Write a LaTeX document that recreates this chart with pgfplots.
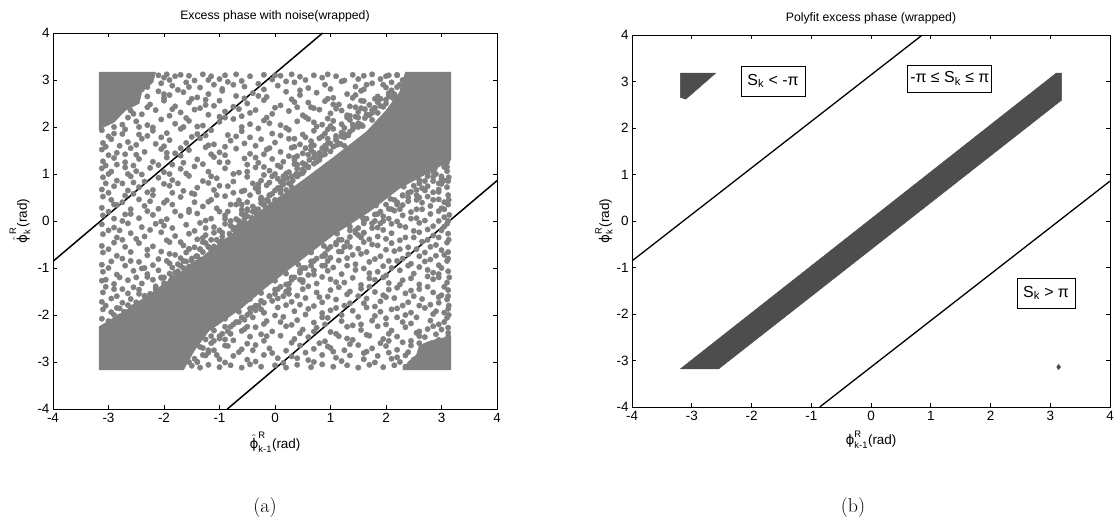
\documentclass[border=0pt]{standalone}
\usepackage{pgfplots}
\pgfplotsset{compat=1.18}
\usepackage{amsmath}
\usepackage{fontspec}
\newfontfamily\arial{Liberation Sans}
\newfontfamily\dejavu{DejaVu Sans}
\newcommand{\ph}{\text{\dejavu ϕ}}
\definecolor{mgray}{RGB}{128,128,128}
\definecolor{dgray}{RGB}{77,77,77}
\pgfplotsset{
 mystyle/.style={
  scale only axis, xmin=-4,xmax=4,ymin=-4,ymax=4,
  xtick={-4,-3,-2,-1,0,1,2,3,4}, ytick={-4,-3,-2,-1,0,1,2,3,4},
  xticklabels={-4,-3,-2,-1,0,1,2,3,4}, yticklabels={-4,-3,-2,-1,0,1,2,3,4},
  tick align=inside, major tick length=4bp,
  tick style={black, line width=0.6bp},
  axis line style={black, line width=0.8bp},
  ticklabel style={font=\arial\fontsize{13.5}{15}\selectfont},
  xticklabel style={yshift=-1bp},
  title style={font=\arial\fontsize{12.3}{14}\selectfont, yshift=1bp},
  xlabel style={font=\arial\fontsize{13.5}{15}\selectfont, at={(axis description cs:0.5,0)}, anchor=center, yshift=-33bp},
  ylabel style={font=\arial\fontsize{13.5}{15}\selectfont, anchor=center},
 }}
\begin{document}
\begin{tikzpicture}
\path[use as bounding box] (0,0) rectangle (1117bp,527bp);
% ---------------- (a) ----------------
\begin{axis}[mystyle, at={(53bp,118bp)}, anchor=south west, width=444bp, height=376bp,
  title={Excess phase with noise(wrapped)},
  xlabel={$\hat{\ph}^{\text{R}}_{\text{k-1}}$(rad)},
  ylabel={$\hat{\ph}^{\text{R}}_{\text{k}}$(rad)},
  ylabel style={at={([xshift=-33bp]axis description cs:0,0.5)}}]
% dense band
\addplot[fill=mgray, draw=mgray, line width=0.5bp] coordinates {
(-3.17,-3.17) (-1.65,-3.17) (-1.45,-2.75) (-1.2,-2.35) (-0.6,-1.85) (-0.15,-1.4) (0.5,-0.8) (1.05,-0.3) (1.7,0.2) (2.25,0.7) (2.8,1.05) (3.17,1.3) (3.17,3.17) (2.35,3.17) (2.25,2.75) (2.0,2.35) (1.65,1.9) (1.05,1.35) (0.45,0.82) (-0.15,0.32) (-0.75,-0.25) (-1.35,-0.8) (-2.25,-1.55) (-2.75,-1.95) (-3.17,-2.25) (-3.17,-3.17)};
% corners
\addplot[fill=mgray, draw=mgray, line width=0.5bp] coordinates {
(-3.17,3.17) (-2.15,3.17) (-2.2,2.95) (-2.4,2.75) (-2.45,2.5) (-2.7,2.35) (-2.9,2.1) (-3.17,1.95) (-3.17,3.17)};
\addplot[fill=mgray, draw=mgray, line width=0.5bp] coordinates {
(3.17,-3.17) (2.3,-3.17) (2.4,-3.0) (2.55,-2.85) (2.6,-2.65) (2.8,-2.55) (3.17,-2.45) (3.17,-3.17)};
% scattered points, upper-left region
\addplot[only marks, mark=*, mark size=2.7bp, color=mgray] coordinates {
(-2.1,3.1)(-1.95,3.12)(-1.8,3.08)(-1.7,3.11)(-1.55,3.09)(-1.3,3.12)(-1.15,3.08)(-0.9,3.1)(-0.7,3.12)(-0.45,3.08)(-0.2,3.11)(0.1,3.09)(0.3,3.12)(0.45,3.07)(0.7,3.1)(0.95,3.12)(1.1,3.08)(1.4,3.11)(1.6,3.09)(1.75,3.12)(2.0,3.08)(2.2,3.11)(2.4,3.09)
(-2.3,2.85)(-2.05,2.93)(-1.85,2.88)(-1.6,2.95)(-1.35,2.84)(-1.1,2.9)(-0.85,2.96)(-0.55,2.86)(-0.3,2.92)(0.05,2.88)(0.35,2.95)(0.6,2.83)(0.9,2.9)(1.2,2.97)(1.45,2.86)(1.75,2.93)(2.0,2.84)(2.25,2.9)
(-2.55,2.72)(-2.3,2.65)(-2.1,2.76)(-1.9,2.68)(-1.65,2.74)(-1.4,2.63)(-1.2,2.7)(-0.95,2.77)(-0.7,2.66)(-0.4,2.72)(-0.15,2.64)(0.2,2.75)(0.45,2.68)(0.75,2.73)(1.05,2.62)(1.3,2.7)(1.55,2.77)(1.85,2.65)(2.05,2.72)(2.2,2.62)
(-2.75,2.45)(-2.5,2.55)(-2.25,2.48)(-2.0,2.56)(-1.8,2.44)(-1.55,2.52)(-1.25,2.47)(-1.0,2.56)(-0.75,2.43)(-0.5,2.5)(-0.2,2.57)(0.1,2.46)(0.35,2.53)(0.65,2.42)(0.9,2.55)(1.15,2.48)(1.35,2.44)(1.55,2.56)(1.7,2.47)(1.85,2.53)(1.95,2.43)
(-3.05,2.33)(-2.85,2.25)(-2.6,2.35)(-2.4,2.27)(-2.15,2.36)(-1.9,2.24)(-1.7,2.31)(-1.45,2.37)(-1.2,2.26)(-0.9,2.33)(-0.6,2.23)(-0.35,2.36)(-0.05,2.28)(0.25,2.34)(0.5,2.25)(0.8,2.37)(1.0,2.29)(1.2,2.35)(1.35,2.24)(1.5,2.32)(1.65,2.27)(1.75,2.36)
(-3.1,2.08)(-2.95,2.15)(-2.75,2.05)(-2.5,2.12)(-2.3,2.04)(-2.05,2.16)(-1.8,2.07)(-1.55,2.13)(-1.3,2.03)(-1.0,2.11)(-0.75,2.17)(-0.45,2.06)(-0.2,2.14)(0.1,2.04)(0.4,2.12)(0.6,2.17)(0.85,2.05)(1.05,2.13)(1.2,2.06)(1.35,2.15)(1.5,2.08)(1.58,2.02)
(-3.12,1.93)(-2.9,1.86)(-2.7,1.95)(-2.45,1.84)(-2.2,1.92)(-1.95,1.87)(-1.7,1.96)(-1.4,1.85)(-1.15,1.93)(-0.85,1.83)(-0.6,1.91)(-0.3,1.97)(-0.05,1.86)(0.25,1.94)(0.5,1.84)(0.7,1.92)(0.9,1.86)(1.05,1.96)(1.2,1.88)(1.32,1.83)(1.4,1.95)
(-3.1,1.66)(-2.95,1.74)(-2.65,1.68)(-2.4,1.75)(-2.15,1.64)(-1.9,1.72)(-1.6,1.66)(-1.35,1.76)(-1.1,1.63)(-0.8,1.71)(-0.55,1.65)(-0.25,1.74)(0.0,1.67)(0.25,1.75)(0.45,1.63)(0.65,1.7)(0.8,1.76)(0.95,1.65)(1.1,1.72)(1.18,1.64)
(-3.12,1.52)(-2.85,1.45)(-2.6,1.55)(-2.35,1.47)(-2.05,1.53)(-1.8,1.44)(-1.55,1.51)(-1.25,1.57)(-1.0,1.46)(-0.7,1.54)(-0.45,1.43)(-0.15,1.52)(0.1,1.47)(0.3,1.56)(0.5,1.44)(0.65,1.51)(0.8,1.45)(0.92,1.55)(1.0,1.48)
(-3.1,1.27)(-2.9,1.34)(-2.7,1.25)(-2.45,1.32)(-2.2,1.26)(-1.95,1.35)(-1.65,1.24)(-1.4,1.31)(-1.1,1.36)(-0.85,1.25)(-0.55,1.33)(-0.3,1.24)(-0.05,1.32)(0.15,1.26)(0.35,1.35)(0.5,1.23)(0.62,1.3)(0.75,1.26)(0.8,1.35)
(-3.12,1.12)(-2.95,1.05)(-2.7,1.14)(-2.5,1.06)(-2.25,1.13)(-2.0,1.04)(-1.7,1.11)(-1.45,1.16)(-1.2,1.05)(-0.9,1.12)(-0.65,1.03)(-0.35,1.14)(-0.1,1.07)(0.1,1.15)(0.25,1.04)(0.4,1.11)(0.52,1.06)(0.6,1.14)
(-3.1,0.93)(-2.85,0.86)(-2.6,0.95)(-2.35,0.84)(-2.1,0.92)(-1.85,0.87)(-1.55,0.96)(-1.3,0.85)(-1.05,0.91)(-0.75,0.84)(-0.5,0.94)(-0.25,0.86)(-0.05,0.95)(0.1,0.84)(0.22,0.91)(0.32,0.86)(0.4,0.95)
(-3.12,0.67)(-2.9,0.74)(-2.65,0.65)(-2.45,0.72)(-2.2,0.66)(-1.9,0.75)(-1.65,0.64)(-1.4,0.71)(-1.1,0.66)(-0.85,0.74)(-0.6,0.63)(-0.35,0.7)(-0.15,0.76)(0.0,0.65)(0.1,0.72)(0.2,0.66)
(-3.1,0.52)(-2.95,0.45)(-2.7,0.54)(-2.45,0.46)(-2.2,0.55)(-1.95,0.44)(-1.7,0.51)(-1.45,0.57)(-1.15,0.45)(-0.9,0.53)(-0.65,0.44)(-0.45,0.55)(-0.25,0.47)(-0.1,0.54)(0.0,0.45)
(-3.12,0.28)(-2.85,0.34)(-2.6,0.25)(-2.35,0.32)(-2.1,0.26)(-1.85,0.35)(-1.55,0.24)(-1.3,0.31)(-1.05,0.27)(-0.8,0.35)(-0.6,0.24)(-0.4,0.31)(-0.3,0.25)(-0.2,0.34)
(-3.1,0.12)(-2.9,0.05)(-2.7,0.14)(-2.45,0.06)(-2.2,0.13)(-1.95,0.04)(-1.7,0.11)(-1.4,0.16)(-1.15,0.05)(-0.9,0.12)(-0.7,0.04)(-0.55,0.13)(-0.42,0.07)
(-3.12,-0.07)(-2.9,-0.14)(-2.65,-0.05)(-2.4,-0.13)(-2.15,-0.06)(-1.85,-0.15)(-1.6,-0.08)(-1.35,-0.04)(-1.1,-0.13)(-0.9,-0.06)(-0.75,-0.14)(-0.62,-0.05)
(-3.1,-0.28)(-2.85,-0.35)(-2.6,-0.26)(-2.35,-0.33)(-2.05,-0.24)(-1.8,-0.32)(-1.55,-0.27)(-1.3,-0.36)(-1.1,-0.25)(-0.95,-0.33)(-0.82,-0.27)
(-3.12,-0.53)(-2.9,-0.46)(-2.7,-0.55)(-2.45,-0.47)(-2.2,-0.54)(-1.9,-0.45)(-1.65,-0.52)(-1.45,-0.56)(-1.25,-0.47)(-1.1,-0.54)(-1.0,-0.46)
(-3.1,-0.67)(-2.85,-0.74)(-2.6,-0.66)(-2.3,-0.73)(-2.05,-0.65)(-1.8,-0.72)(-1.6,-0.67)(-1.42,-0.75)(-1.3,-0.66)(-1.2,-0.73)
(-3.12,-0.93)(-2.95,-0.86)(-2.7,-0.95)(-2.45,-0.87)(-2.2,-0.94)(-1.95,-0.85)(-1.75,-0.92)(-1.6,-0.86)(-1.48,-0.95)(-1.4,-0.88)
(-3.1,-1.08)(-2.85,-1.14)(-2.55,-1.06)(-2.3,-1.13)(-2.1,-1.05)(-1.9,-1.12)(-1.75,-1.07)(-1.62,-1.14)
(-3.12,-1.27)(-2.9,-1.34)(-2.65,-1.26)(-2.4,-1.33)(-2.2,-1.25)(-2.0,-1.32)(-1.88,-1.27)(-1.8,-1.35)
(-3.1,-1.52)(-2.9,-1.45)(-2.65,-1.54)(-2.45,-1.46)(-2.25,-1.55)(-2.1,-1.47)(-2.0,-1.53)
(-3.12,-1.72)(-2.95,-1.65)(-2.75,-1.74)(-2.6,-1.66)(-2.5,-1.73)
(-3.1,-1.88)(-2.95,-1.94)(-2.8,-1.86)(-2.72,-1.93)
(-3.12,-2.08)(-3.0,-2.13)
(-2.0,-1.2)(-1.8,-1.1)(-1.7,-0.95)(-1.5,-0.85)(-1.35,-0.6)(-1.2,-0.55)(-1.05,-0.4)(-0.95,-0.25)(-0.8,-0.1)(-0.65,0.0)(-0.5,0.25)(-0.4,0.2)(-0.25,0.45)(-0.1,0.55)(0.05,0.7)(0.15,0.85)(0.3,0.95)(0.45,1.0)(0.55,1.2)(0.7,1.35)(0.85,1.4)(1.0,1.65)(1.1,1.75)(1.25,1.85)(1.4,2.05)(1.5,2.2)(1.65,2.25)(1.8,2.4)(1.9,2.6)(2.05,2.65)(2.2,2.85)(2.35,2.95)(2.45,3.05)
(-1.9,-0.9)(-1.55,-0.6)(-1.25,-0.3)(-0.9,0.05)(-0.6,0.35)(-0.3,0.7)(0.0,1.0)(0.35,1.3)(0.65,1.6)(0.95,1.95)(1.3,2.25)(1.6,2.55)(1.95,2.9)(2.2,3.1)
(-1.9,3.0)(-1.45,2.99)(-1.0,3.02)(-0.6,2.98)(-0.05,3.01)(0.55,3.0)(1.25,2.99)(1.9,3.02)(2.3,3.0)
(-2.4,2.8)(-1.75,2.79)(-0.95,2.81)(-0.2,2.8)(0.45,2.78)(1.0,2.81)(1.6,2.8)(2.1,2.78)(2.3,2.75)
(-2.7,2.6)(-2.0,2.62)(-1.5,2.6)(-0.55,2.61)(0.3,2.59)(0.95,2.6)(1.4,2.62)(1.8,2.6)(2.0,2.58)(2.12,2.62)
(-2.9,2.4)(-2.3,2.42)(-1.35,2.4)(-0.65,2.38)(0.0,2.41)(0.7,2.4)(1.1,2.39)(1.45,2.42)(1.62,2.38)(1.8,2.41)(1.9,2.45)
(-3.12,2.2)(-2.65,2.2)(-1.6,2.19)(-1.0,2.22)(-0.15,2.2)(0.55,2.21)(0.95,2.18)(1.3,2.2)(1.45,2.22)(1.62,2.19)(1.7,2.25)
(-2.9,2.0)(-2.2,1.99)(-1.4,2.01)(-0.6,2.0)(0.2,1.98)(0.75,2.01)(1.0,2.02)(1.25,1.98)(1.42,2.0)(1.5,2.04)
(-3.0,1.8)(-2.3,1.81)(-1.5,1.79)(-0.7,1.8)(0.1,1.82)(0.55,1.78)(0.85,1.8)(1.1,1.81)(1.25,1.78)(1.32,1.82)
(-2.8,1.6)(-2.0,1.59)(-1.2,1.61)(-0.35,1.6)(0.35,1.58)(0.7,1.61)(0.9,1.6)(1.05,1.58)(1.12,1.62)
(-3.0,1.4)(-2.5,1.41)(-1.7,1.39)(-0.9,1.4)(-0.2,1.42)(0.4,1.38)(0.6,1.41)(0.78,1.39)(0.9,1.42)
(-2.85,1.2)(-2.1,1.19)(-1.3,1.21)(-0.5,1.2)(0.05,1.18)(0.35,1.21)(0.55,1.2)(0.7,1.22)
(-3.0,1.0)(-2.4,0.99)(-1.6,1.01)(-0.75,1.0)(-0.2,0.98)(0.2,1.01)(0.38,1.0)(0.5,1.02)
(-2.75,0.8)(-2.0,0.79)(-1.2,0.81)(-0.4,0.8)(-0.1,0.82)(0.15,0.78)(0.28,0.8)
(-3.0,0.6)(-2.3,0.61)(-1.5,0.59)(-0.75,0.6)(-0.3,0.62)(-0.05,0.58)(0.1,0.6)
(-2.75,0.4)(-2.0,0.39)(-1.2,0.41)(-0.5,0.4)(-0.25,0.38)(-0.12,0.42)
(-3.0,0.2)(-2.3,0.21)(-1.55,0.19)(-0.85,0.2)(-0.5,0.22)(-0.35,0.18)
(-2.75,0.0)(-2.05,-0.01)(-1.25,0.01)(-0.8,0.0)(-0.55,-0.02)
(-3.0,-0.2)(-2.25,-0.19)(-1.45,-0.21)(-1.0,-0.2)(-0.75,-0.18)
(-2.75,-0.4)(-1.95,-0.41)(-1.4,-0.39)(-1.15,-0.4)(-0.95,-0.42)
(-3.0,-0.6)(-2.3,-0.61)(-1.55,-0.59)(-1.35,-0.6)(-1.15,-0.62)
(-2.75,-0.8)(-2.1,-0.81)(-1.7,-0.79)(-1.5,-0.8)(-1.35,-0.82)
(-3.0,-1.0)(-2.4,-1.01)(-1.85,-0.99)(-1.65,-1.0)(-1.55,-0.97)
(-2.8,-1.2)(-2.3,-1.19)(-2.05,-1.21)(-1.85,-1.2)
(-3.05,-1.4)(-2.55,-1.41)(-2.15,-1.39)(-2.02,-1.42)
(-2.85,-1.6)(-2.35,-1.59)(-2.2,-1.62)
(-3.05,-1.8)(-2.65,-1.79)(-2.55,-1.83)
(-2.9,-2.0)(-2.8,-2.03)
(2.35,2.75)(2.45,2.6)(2.4,2.45)(2.3,2.55)(2.45,2.85)(2.5,2.95)(2.35,3.0)
(-2.6,-1.85)(-2.35,-1.6)(-2.15,-1.45)(-1.95,-1.35)(-1.6,-1.05)(-1.4,-0.75)(-1.15,-0.6)(-1.0,-0.45)(-0.7,-0.15)(-0.55,0.05)(-0.35,0.25)(-0.2,0.35)(0.1,0.65)(0.25,0.8)(0.4,0.95)(0.6,1.15)(0.8,1.3)(0.9,1.5)(1.15,1.65)(1.35,1.9)(1.55,2.05)(1.75,2.3)(2.0,2.5)(2.15,2.7)(2.3,2.8)
(-2.0,2.7)(-1.25,2.58)(-0.3,2.66)(0.6,2.52)(1.45,2.68)(1.65,2.9)(0.2,2.97)(-0.75,2.9)(-1.55,2.85)(2.1,2.95)
(-2.55,2.28)(-1.85,2.38)(-1.1,2.45)(-0.45,2.3)(0.4,2.42)(1.05,2.48)(1.55,2.4)(1.75,2.15)(0.7,2.1)(-0.1,2.08)(-0.9,2.2)(-1.65,2.0)(-2.45,2.0)
(-2.75,1.85)(-2.05,1.78)(-1.25,1.82)(-0.45,1.78)(0.35,1.75)(0.95,1.75)(1.25,1.6)(0.55,1.55)(-0.1,1.55)(-0.9,1.58)(-1.7,1.55)(-2.5,1.62)(-3.05,1.58)
(-2.7,1.42)(-1.95,1.45)(-1.15,1.42)(-0.35,1.35)(0.25,1.38)(0.7,1.45)(0.4,1.2)(-0.2,1.15)(-1.0,1.25)(-1.85,1.2)(-2.55,1.18)(-3.05,1.18)
(-2.65,1.0)(-1.9,1.0)(-1.15,0.95)(-0.5,1.05)(0.05,0.9)(0.3,0.72)(-0.3,0.78)(-1.0,0.75)(-1.75,0.8)(-2.55,0.82)(-3.05,0.8)
(-2.55,0.58)(-1.85,0.6)(-1.05,0.55)(-0.55,0.65)(-0.15,0.45)(-0.7,0.35)(-1.45,0.4)(-2.25,0.42)(-2.9,0.35)
(-2.6,0.15)(-1.8,0.2)(-1.0,0.2)(-0.5,0.1)(-0.65,-0.1)(-1.25,-0.15)(-2.0,-0.1)(-2.8,-0.2)
(-2.5,-0.38)(-1.7,-0.45)(-1.2,-0.55)(-2.6,-0.85)(-1.9,-0.7)(-2.35,-1.0)(-1.75,-1.25)(-2.5,-1.2)(-2.75,-1.45)(-2.85,-1.85)(-3.05,-1.25)(-2.2,-1.8)
(-2.0,3.05)(-1.2,3.0)(0.0,3.1)(0.85,3.05)(1.5,3.02)(2.05,3.1)
(-2.45,-1.55)(-2.05,-1.2)(-1.65,-0.85)(-1.3,-0.45)(-1.0,-0.2)(-0.6,0.15)(-0.25,0.5)(0.15,0.95)(0.5,1.1)(0.85,1.55)(1.2,1.8)(1.5,2.0)(1.85,2.3)(2.05,2.7)(2.2,2.6)
};
% scattered points, lower-right region
\addplot[only marks, mark=*, mark size=2.7bp, color=mgray] coordinates {
(-1.5,-3.08)(-1.35,-3.12)(-1.2,-3.06)(-1.0,-3.11)(-0.8,-3.07)(-0.6,-3.12)(-0.45,-3.05)(-0.25,-3.1)(0.0,-3.07)(0.2,-3.12)(0.4,-3.06)(0.65,-3.11)(0.85,-3.05)(1.05,-3.1)(1.3,-3.07)(1.5,-3.12)(1.7,-3.06)(1.95,-3.11)(2.15,-3.07)(2.35,-3.1)
(-1.45,-2.93)(-1.25,-2.86)(-1.0,-2.94)(-0.75,-2.87)(-0.5,-2.95)(-0.2,-2.85)(0.05,-2.92)(0.3,-2.88)(0.6,-2.96)(0.85,-2.85)(1.1,-2.91)(1.35,-2.86)(1.6,-2.94)(1.85,-2.87)(2.1,-2.93)(2.35,-2.86)(2.5,-2.95)
(-1.35,-2.68)(-1.1,-2.75)(-0.85,-2.66)(-0.6,-2.73)(-0.35,-2.64)(-0.1,-2.71)(0.2,-2.76)(0.45,-2.65)(0.7,-2.72)(0.95,-2.67)(1.25,-2.75)(1.5,-2.64)(1.75,-2.71)(2.0,-2.66)(2.2,-2.74)(2.45,-2.65)
(-1.25,-2.52)(-1.0,-2.45)(-0.75,-2.54)(-0.45,-2.46)(-0.2,-2.55)(0.1,-2.44)(0.35,-2.51)(0.6,-2.47)(0.9,-2.56)(1.15,-2.45)(1.4,-2.53)(1.7,-2.44)(1.95,-2.51)(2.2,-2.46)(2.45,-2.55)(2.7,-2.47)(2.95,-2.53)(3.12,-2.46)
(-1.1,-2.33)(-0.9,-2.25)(-0.6,-2.34)(-0.35,-2.26)(-0.05,-2.35)(0.2,-2.24)(0.5,-2.31)(0.75,-2.27)(1.0,-2.36)(1.3,-2.25)(1.55,-2.32)(1.85,-2.24)(2.1,-2.33)(2.35,-2.26)(2.6,-2.35)(2.85,-2.24)(3.0,-2.31)(3.12,-2.27)
(-0.9,-2.08)(-0.65,-2.15)(-0.4,-2.05)(-0.15,-2.13)(0.15,-2.04)(0.4,-2.11)(0.7,-2.16)(0.95,-2.06)(1.2,-2.13)(1.5,-2.04)(1.75,-2.12)(2.0,-2.07)(2.3,-2.15)(2.55,-2.05)(2.8,-2.12)(3.1,-2.06)
(-0.65,-1.93)(-0.45,-1.86)(-0.2,-1.95)(0.05,-1.84)(0.35,-1.92)(0.6,-1.87)(0.85,-1.96)(1.1,-1.85)(1.4,-1.91)(1.65,-1.84)(1.9,-1.93)(2.2,-1.86)(2.45,-1.95)(2.7,-1.85)(2.9,-1.92)(3.12,-1.87)
(-0.45,-1.66)(-0.2,-1.74)(0.05,-1.65)(0.3,-1.72)(0.55,-1.64)(0.85,-1.73)(1.1,-1.67)(1.35,-1.75)(1.65,-1.65)(1.9,-1.71)(2.15,-1.64)(2.4,-1.73)(2.65,-1.66)(2.95,-1.74)(3.1,-1.67)
(-0.25,-1.53)(0.0,-1.46)(0.25,-1.55)(0.5,-1.45)(0.75,-1.52)(1.0,-1.47)(1.3,-1.56)(1.55,-1.44)(1.8,-1.51)(2.05,-1.46)(2.35,-1.54)(2.6,-1.45)(2.85,-1.52)(3.12,-1.47)
(0.0,-1.27)(0.25,-1.34)(0.5,-1.26)(0.75,-1.33)(1.0,-1.24)(1.25,-1.31)(1.55,-1.36)(1.8,-1.25)(2.05,-1.32)(2.3,-1.26)(2.6,-1.35)(2.85,-1.24)(3.1,-1.31)
(0.2,-1.12)(0.45,-1.05)(0.7,-1.14)(0.95,-1.06)(1.2,-1.13)(1.45,-1.04)(1.7,-1.11)(2.0,-1.16)(2.25,-1.05)(2.5,-1.12)(2.75,-1.04)(2.95,-1.13)(3.12,-1.07)
(0.42,-0.93)(0.65,-0.86)(0.9,-0.95)(1.15,-0.84)(1.45,-0.92)(1.7,-0.87)(1.95,-0.96)(2.2,-0.85)(2.45,-0.91)(2.7,-0.86)(2.95,-0.94)(3.1,-0.85)
(0.65,-0.67)(0.9,-0.74)(1.15,-0.65)(1.4,-0.72)(1.65,-0.66)(1.9,-0.75)(2.15,-0.64)(2.4,-0.71)(2.7,-0.67)(2.9,-0.74)(3.12,-0.66)
(0.88,-0.53)(1.1,-0.46)(1.35,-0.55)(1.6,-0.45)(1.85,-0.52)(2.1,-0.47)(2.4,-0.56)(2.65,-0.44)(2.9,-0.51)(3.1,-0.46)
(1.12,-0.27)(1.35,-0.34)(1.6,-0.25)(1.85,-0.33)(2.1,-0.26)(2.35,-0.35)(2.6,-0.24)(2.85,-0.31)(3.12,-0.27)
(1.35,-0.12)(1.6,-0.05)(1.85,-0.14)(2.1,-0.06)(2.35,-0.13)(2.6,-0.04)(2.85,-0.11)(3.1,-0.06)
(1.58,0.07)(1.8,0.14)(2.05,0.05)(2.3,0.12)(2.55,0.06)(2.8,0.15)(3.05,0.08)(3.14,0.13)
(1.82,0.33)(2.05,0.26)(2.3,0.34)(2.55,0.25)(2.8,0.32)(3.0,0.27)(3.12,0.35)
(2.08,0.47)(2.3,0.54)(2.55,0.45)(2.75,0.52)(2.95,0.46)(3.12,0.55)
(2.32,0.73)(2.55,0.66)(2.75,0.74)(2.95,0.67)(3.1,0.72)
(2.6,0.87)(2.85,0.94)(3.05,0.86)(3.13,0.93)
(2.88,1.12)(3.1,1.06)
(-1.3,-2.7)(-1.1,-2.55)(-0.95,-2.4)(-0.8,-2.25)(-0.6,-2.05)(-0.45,-1.95)(-0.3,-1.8)(-0.1,-1.6)(0.05,-1.45)(0.2,-1.35)(0.35,-1.2)(0.55,-1.0)(0.7,-0.85)(0.85,-0.75)(1.0,-0.55)(1.2,-0.4)(1.35,-0.2)(1.5,-0.15)(1.65,0.05)(1.85,0.15)(2.0,0.35)(2.15,0.45)(2.3,0.55)(2.5,0.75)(2.7,0.85)(2.9,1.0)(3.05,1.15)
(-0.9,-2.65)(-0.55,-2.3)(-0.2,-1.95)(0.15,-1.6)(0.5,-1.3)(0.85,-0.95)(1.2,-0.65)(1.55,-0.35)(1.9,-0.05)(2.25,0.25)(2.6,0.5)(2.95,0.8)
(3.13,-2.0)(3.12,-1.6)(3.14,-1.2)(3.12,-0.8)(3.13,-0.4)(3.12,0.0)(3.13,0.45)(3.12,0.85)
(-1.4,-3.0)(-0.9,-3.01)(-0.35,-2.99)(0.15,-3.02)(0.7,-3.0)(1.2,-2.98)(1.8,-3.01)(2.25,-3.0)
(-1.2,-2.8)(-0.65,-2.79)(-0.05,-2.81)(0.55,-2.8)(1.05,-2.78)(1.6,-2.81)(2.05,-2.8)(2.4,-2.79)
(-1.15,-2.6)(-0.5,-2.61)(0.3,-2.59)(0.8,-2.6)(1.35,-2.62)(1.9,-2.6)(2.3,-2.58)(2.6,-2.6)(3.0,-2.62)
(-0.8,-2.4)(-0.25,-2.41)(0.45,-2.39)(1.1,-2.4)(1.65,-2.42)(2.05,-2.4)(2.55,-2.38)(2.9,-2.41)(3.12,-2.38)
(-0.75,-2.2)(-0.2,-2.19)(0.3,-2.21)(0.9,-2.2)(1.4,-2.22)(2.0,-2.2)(2.45,-2.18)(2.95,-2.2)
(-0.5,-2.0)(0.0,-2.01)(0.55,-1.99)(1.2,-2.0)(1.8,-2.02)(2.35,-2.0)(2.85,-1.98)
(-0.35,-1.8)(0.2,-1.79)(0.7,-1.81)(1.25,-1.8)(1.8,-1.82)(2.3,-1.8)(2.8,-1.78)(3.13,-1.8)
(-0.1,-1.6)(0.4,-1.59)(0.95,-1.61)(1.5,-1.6)(2.0,-1.62)(2.5,-1.6)(3.0,-1.58)
(0.1,-1.4)(0.6,-1.39)(1.15,-1.41)(1.7,-1.4)(2.2,-1.42)(2.75,-1.4)
(0.3,-1.2)(0.85,-1.19)(1.4,-1.21)(1.95,-1.2)(2.45,-1.22)(2.95,-1.2)
(0.5,-1.0)(1.05,-0.99)(1.6,-1.01)(2.1,-1.0)(2.6,-0.98)(3.0,-1.0)
(0.75,-0.8)(1.3,-0.79)(1.8,-0.81)(2.3,-0.8)(2.8,-0.82)
(0.95,-0.6)(1.5,-0.59)(2.0,-0.61)(2.55,-0.6)(3.0,-0.62)
(1.15,-0.4)(1.7,-0.39)(2.25,-0.41)(2.75,-0.4)
(1.45,-0.2)(1.95,-0.19)(2.5,-0.21)(3.0,-0.2)
(1.6,0.0)(2.2,-0.01)(2.7,0.01)
(1.9,0.2)(2.45,0.19)(2.95,0.21)
(2.2,0.4)(2.65,0.39)(3.05,0.4)
(2.4,0.6)(2.85,0.61)
(2.6,0.8)(3.0,0.79)
(2.75,1.0)(3.05,1.22)
(-1.4,-3.0)(-1.2,-2.75)(-1.0,-2.5)(-0.7,-2.15)(-0.4,-1.85)(-0.25,-1.7)(0.0,-1.55)(0.3,-1.25)(0.45,-1.1)(0.65,-0.95)(0.9,-0.7)(1.1,-0.5)(1.3,-0.45)(1.45,-0.25)(1.75,-0.05)(1.95,0.1)(2.2,0.35)(2.4,0.5)(2.65,0.7)(2.85,0.85)(3.0,0.95)(3.1,1.15)
(-1.05,-2.85)(-0.4,-2.75)(0.4,-2.92)(1.0,-2.7)(1.65,-2.78)(2.2,-2.9)(-0.9,-2.52)(-0.15,-2.45)(0.7,-2.35)(1.3,-2.5)(2.05,-2.55)(2.6,-2.45)
(-0.5,-2.25)(0.1,-2.15)(0.85,-2.05)(1.55,-2.2)(2.2,-2.05)(2.75,-2.3)(3.05,-2.15)
(-0.25,-1.88)(0.45,-1.78)(1.0,-1.9)(1.6,-1.75)(2.1,-1.88)(2.6,-1.8)(3.05,-1.95)
(0.2,-1.5)(0.8,-1.62)(1.35,-1.5)(1.95,-1.58)(2.45,-1.48)(2.95,-1.62)
(0.45,-1.25)(1.1,-1.3)(1.7,-1.22)(2.25,-1.35)(2.75,-1.18)(3.05,-1.4)
(0.7,-1.05)(1.3,-0.95)(1.85,-1.08)(2.4,-0.95)(2.85,-1.1)
(1.0,-0.78)(1.55,-0.7)(2.05,-0.85)(2.6,-0.75)(3.05,-0.72)
(1.25,-0.55)(1.75,-0.5)(2.25,-0.6)(2.8,-0.55)
(1.5,-0.3)(2.0,-0.38)(2.5,-0.35)(2.95,-0.35)
(1.75,-0.15)(2.25,-0.1)(2.75,-0.18)(3.05,-0.12)
(1.95,0.0)(2.45,0.05)(2.95,0.0)
(2.15,0.22)(2.65,0.25)(3.05,0.25)
(2.4,0.42)(2.85,0.45)
(2.55,0.55)(2.95,0.62)(2.7,0.65)(3.0,0.9)(2.85,1.05)(3.1,1.25)
(-1.55,-3.0)(-1.3,-2.85)(-1.15,-2.45)(-0.85,-2.35)(-0.55,-2.1)(-0.35,-1.9)(-0.05,-1.7)(0.25,-1.45)(0.6,-1.15)(0.95,-0.85)(1.25,-0.55)(1.6,-0.25)(1.8,0.0)(2.1,0.25)(2.45,0.62)(2.75,0.95)(3.0,1.25)
};
\addplot[black, line width=1.5bp] coordinates {(-4,-0.8584) (0.8584,4)};
\addplot[black, line width=1.5bp] coordinates {(-0.8584,-4) (4,0.8584)};
\end{axis}
% ---------------- (b) ----------------
\begin{axis}[mystyle, at={(632bp,120bp)}, anchor=south west, width=478bp, height=372bp,
  title={Polyfit excess phase (wrapped)},
  xlabel={$\ph^{\text{R}}_{\text{k-1}}$(rad)},
  ylabel={$\ph^{\text{R}}_{\text{k}}$(rad)},
  ylabel style={at={([xshift=-28bp]axis description cs:0,0.5)}}]
\addplot[fill=dgray, draw=dgray, line width=0.5bp] coordinates {
(-3.19,-3.18) (-2.55,-3.18) (3.19,2.6) (3.19,3.18) (3.1,3.18) (-3.19,-3.18)};
\addplot[fill=dgray, draw=dgray, line width=0.5bp] coordinates {
(-3.19,3.18) (-2.6,3.18) (-3.1,2.62) (-3.19,2.66) (-3.19,3.18)};
\addplot[only marks, mark=diamond*, mark size=2.6bp, color=dgray] coordinates {(3.14,-3.14)};
\addplot[black, line width=1.3bp] coordinates {(-4,-0.8584) (0.8584,4)};
\addplot[black, line width=1.3bp] coordinates {(-0.8584,-4) (4,0.8584)};
\node[draw=black, line width=0.8bp, fill=white, minimum width=64bp, minimum height=30bp, inner sep=0pt, font=\arial\fontsize{16}{18}\selectfont] at (axis cs:-1.64,3.01) {S$_{\text{k}}$ < -π};
\node[draw=black, line width=0.8bp, fill=white, minimum width=84bp, minimum height=27bp, inner sep=0pt, font=\arial\fontsize{16}{18}\selectfont] at (axis cs:1.32,3.06) {-π ≤ S$_{\text{k}}$ ≤ π};
\node[draw=black, line width=0.8bp, fill=white, minimum width=58bp, minimum height=30bp, inner sep=0pt, font=\arial\fontsize{16}{18}\selectfont] at (axis cs:2.93,-1.55) {S$_{\text{k}}$ > π};
\end{axis}
\node[font=\fontsize{20}{22}\selectfont] at (265bp,19bp) {(a)};
\node[font=\fontsize{20}{22}\selectfont] at (853bp,19bp) {(b)};
\end{tikzpicture}
\end{document}
